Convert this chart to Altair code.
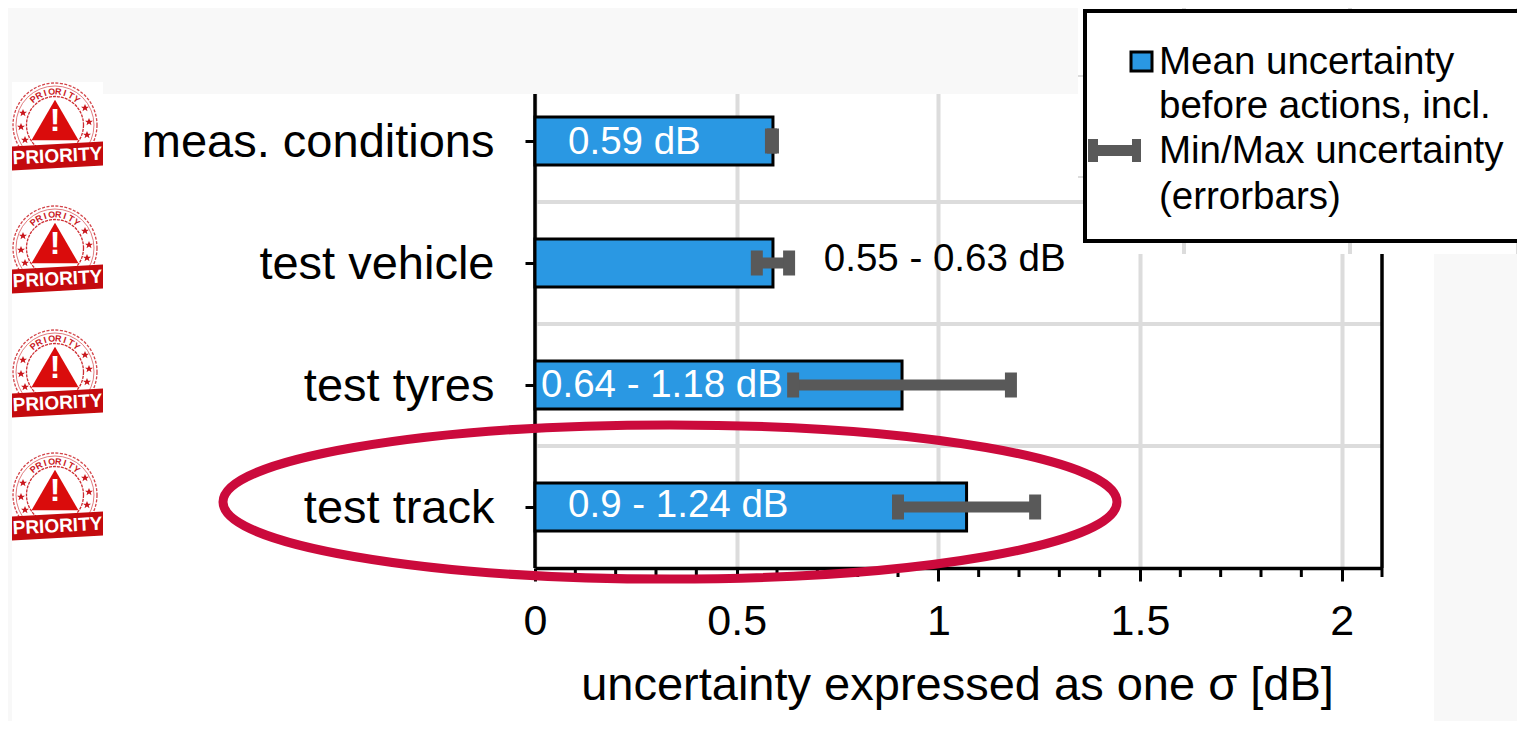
import math
import altair as alt
import pandas as pd

categories = ["meas. conditions", "test vehicle", "test tyres", "test track"]
means = [0.59, 0.59, 0.91, 1.07]
mins = [0.585, 0.55, 0.64, 0.90]
maxs = [0.59, 0.63, 1.18, 1.24]
major_ticks = [0, 0.5, 1, 1.5, 2]
minor_ticks = [0.1, 0.2, 0.3, 0.4, 0.6, 0.7, 0.8, 0.9, 1.1, 1.2, 1.3, 1.4, 1.6, 1.7, 1.8, 1.9, 2.1]
label_text = ["0.59 dB", "0.55 - 0.63 dB", "0.64 - 1.18 dB", "0.9 - 1.24 dB"]
label_x = [0.082, 0.716, 0.015, 0.082]
label_color = ["white", "black", "white", "white"]
label_shift = [1, -4, 0, -2]
legend_lines = ["Mean uncertainty", "before actions, incl.", "Min/Max uncertainty", "(errorbars)"]

FONT = "Liberation Sans"
BLUE = "#2a98e3"
GREY = "#595959"
GRID = "#dcdcdc"
RED = "#cb0a3c"
BG = "#f8f8f8"
STAMP = "#c9161c"

OX, OY = 535, 80   # page position of the plot origin
W, H = 847, 488

df = pd.DataFrame(dict(cat=categories, mean=means, lo=mins, hi=maxs))
minor = pd.DataFrame(dict(v=minor_ticks))
hgrid = pd.DataFrame(dict(cat=categories[1:], a=[0] * 3, b=[2.1] * 3))
edges = pd.DataFrame(dict(v=[0, 2.1]))

X = alt.Scale(domain=[0, 2.1], range=[0, W], nice=False, zero=False)
Y = alt.Scale(domain=categories, paddingInner=0.607, paddingOuter=0.3035)

x_q = alt.X("mean:Q", scale=X, title="uncertainty expressed as one σ [dB]",
            axis=alt.Axis(values=major_ticks, format="~g", grid=True, gridColor=GRID, gridWidth=4,
                          domain=True, domainColor="black", domainWidth=3.5,
                          ticks=True, tickColor="black", tickWidth=3, tickSize=13,
                          labelFont=FONT, labelFontSize=43, labelColor="black", labelPadding=19,
                          labelFlush=False, titleFont=FONT, titleFontSize=47, titleFontWeight="normal",
                          titleColor="black", titlePadding=19, titleX=422, titleAnchor="middle"))
y_c = alt.Y("cat:N", scale=Y, title=None,
            axis=alt.Axis(domain=False, ticks=True, tickColor="black", tickWidth=3, tickSize=10,
                          labelFont=FONT, labelFontSize=47, labelColor="black", labelPadding=31,
                          labelLimit=500, labelOffset=2, grid=False))


def px(v):
    return v - OX


def py(v):
    return v - OY


def pxs(name="x"):
    return alt.X(f"{name}:Q", scale=None, axis=None)


def pys(name="y"):
    return alt.Y(f"{name}:Q", scale=None, axis=None)


def rects(rows):
    d = pd.DataFrame(rows, columns=["x0", "y0", "x1", "y1", "c"])
    d[["x0", "x1"]] -= OX
    d[["y0", "y1"]] -= OY
    return alt.Chart(d).mark_rect(strokeWidth=0).encode(
        x=pxs("x0"), x2="x1:Q", y=pys("y0"), y2="y1:Q", color=alt.Color("c:N", scale=None, legend=None))


# ---- base chart
bars = alt.Chart(df).mark_bar(color=BLUE, stroke="black", strokeWidth=3).encode(x=x_q, y=y_c)
hg = alt.Chart(hgrid).mark_rule(color=GRID, strokeWidth=4, yOffset=-37).encode(
    x=alt.X("a:Q", scale=X), x2="b:Q", y=alt.Y("cat:N", scale=Y, bandPosition=0))
frame = alt.Chart(edges).mark_rule(color="black", strokeWidth=3.5).encode(x=alt.X("v:Q", scale=X))
minor_r = alt.Chart(minor).mark_rule(color="black", strokeWidth=3).encode(
    x=alt.X("v:Q", scale=X), y=alt.value(H), y2=alt.value(H + 9))
err = alt.Chart(df).mark_rule(color=GREY, strokeWidth=11).encode(
    x=alt.X("lo:Q", scale=X), x2="hi:Q", y=alt.Y("cat:N", scale=Y))
cap1 = alt.Chart(df).mark_tick(color=GREY, thickness=12, size=25, opacity=1).encode(
    x=alt.X("lo:Q", scale=X), y=alt.Y("cat:N", scale=Y))
cap2 = alt.Chart(df).mark_tick(color=GREY, thickness=12, size=25, opacity=1).encode(
    x=alt.X("hi:Q", scale=X), y=alt.Y("cat:N", scale=Y))
texts = [
    alt.Chart(pd.DataFrame(dict(cat=[c], tx=[x], t=[s]))).mark_text(
        font=FONT, fontSize=38.5, align="left", baseline="middle", color=col, dy=dy).encode(
        x=alt.X("tx:Q", scale=X), y=alt.Y("cat:N", scale=Y), text="t:N")
    for c, x, s, col, dy in zip(categories, label_x, label_text, label_color, label_shift)
]

# ---- page regions around the chart picture
cover = rects([
    (0, 0, 1078, 94, BG),
    (12, 82, 103, 94, "white"),
    (0, 82, 12, 729, BG),
    (1434, 254, 1525, 729, BG),
    (1078, 0, 1525, 254, "white"),
])
stubs = rects([
    (1182, 1, 1186, 12, GRID), (1348, 1, 1352, 12, GRID), (1516, 1, 1520, 12, GRID),
    (1182, 240, 1186, 254, GRID), (1348, 240, 1352, 254, GRID), (1516, 240, 1520, 254, GRID),
    (1078, 75, 1086, 77, GRID), (1078, 176, 1086, 178, GRID), (1078, 200, 1086, 204, GRID),
])

# ---- legend box
leg_box = alt.Chart(pd.DataFrame(dict(x0=[px(1085)], x1=[px(1535)], y0=[py(11)], y1=[py(241)]))).mark_rect(
    fill="white", stroke="black", strokeWidth=4).encode(x=pxs("x0"), x2="x1:Q", y=pys("y0"), y2="y1:Q")
leg_swatch = alt.Chart(pd.DataFrame(dict(x0=[px(1131)], x1=[px(1152)], y0=[py(52)], y1=[py(71)]))).mark_rect(
    fill=BLUE, stroke="black", strokeWidth=3).encode(x=pxs("x0"), x2="x1:Q", y=pys("y0"), y2="y1:Q")
leg_glyph = rects([
    (1092, 145, 1138, 156, GREY), (1088, 139, 1098, 162, GREY), (1132, 139, 1141, 162, GREY),
])
leg_text = alt.Chart(pd.DataFrame(dict(x=[px(1159)] * 4, y=[py(v) for v in (62, 106, 151, 197)], t=legend_lines))).mark_text(
    font=FONT, fontSize=38.5, align="left", baseline="middle", color="black").encode(
    x=pxs(), y=pys(), text="t:N")

# ---- priority stamps
ring_y = [125, 248, 372, 495]
CX = 55
STAR = "M0,-1L0.29,-0.31L1,-0.31L0.43,0.12L0.62,0.81L0,0.4L-0.62,0.81L-0.43,0.12L-1,-0.31L-0.29,-0.31Z"
BAND = "M-1,-0.21L1,-0.32L1,0.21L-1,0.32Z"
centres = pd.DataFrame(dict(x=[px(CX)] * 4, y=[py(v) for v in ring_y]))
ring_outer = alt.Chart(centres).mark_point(shape="circle", size=84 ** 2, filled=False, color=STAMP, strokeWidth=1.3,
                                           strokeDash=[3, 1.5], opacity=0.8).encode(x=pxs(), y=pys())
ring_mid = alt.Chart(centres).mark_point(shape="circle", size=78 ** 2, filled=False, color=STAMP, strokeWidth=0.8,
                                         opacity=0.7).encode(x=pxs(), y=pys())
ring_in = alt.Chart(centres).mark_point(shape="circle", size=57 ** 2, filled=False, color=STAMP, strokeWidth=1.3,
                                        strokeDash=[3, 1], opacity=0.9).encode(x=pxs(), y=pys())
tri = alt.Chart(centres.assign(y=centres.y - 5)).mark_point(shape="triangle-up", size=47 ** 2, filled=True,
                                                            color="#da0c0c", opacity=1).encode(x=pxs(), y=pys())
excl = alt.Chart(centres.assign(y=centres.y - 4, t="!")).mark_text(
    font=FONT, fontSize=32, fontWeight="bold", color="white", baseline="middle").encode(x=pxs(), y=pys(), text="t:N")
band = alt.Chart(centres.assign(x=centres.x + 2.5, y=centres.y + 31)).mark_point(
    shape=BAND, size=91 ** 2, filled=True, color="#c40a0e", opacity=1).encode(x=pxs(), y=pys())
band_t = alt.Chart(centres.assign(x=centres.x + 2.5, y=centres.y + 31, t="PRIORITY")).mark_text(
    font=FONT, fontSize=19, fontWeight="bold", color="white", baseline="middle", angle=357).encode(
    x=pxs(), y=pys(), text="t:N")
star_offsets = [(-32, -12), (-34, 2), (-30, 15), (30, -17), (34, -3), (32, 10)]
stars = pd.DataFrame([dict(x=px(CX + a), y=py(r + b)) for r in ring_y for a, b in star_offsets])
star_m = alt.Chart(stars).mark_point(shape=STAR, size=8 ** 2, filled=True, color=STAMP, opacity=1).encode(x=pxs(), y=pys())
letters = []
for r in ring_y:
    for i, ch in enumerate("PRIORITY"):
        deg = -40 + i * 80 / 7
        letters.append(dict(x=px(CX + 33.5 * math.sin(math.radians(deg))),
                            y=py(r - 33.5 * math.cos(math.radians(deg))),
                            t=ch, a=(deg + 360) % 360))
arc = alt.Chart(pd.DataFrame(letters)).mark_text(
    font=FONT, fontSize=9, fontWeight="bold", color=STAMP, baseline="middle").encode(
    x=pxs(), y=pys(), text="t:N", angle=alt.Angle("a:Q", scale=None))

# ---- red ellipse
ELLIPSE = "M-1,0A1,0.1725 0 1 0 1,0A1,0.1725 0 1 0 -1,0Z"
ell = alt.Chart(pd.DataFrame(dict(x=[px(670)], y=[py(502)]))).mark_point(
    shape=ELLIPSE, size=(2 * 447) ** 2, filled=False, color=RED, strokeWidth=9, opacity=1).encode(x=pxs(), y=pys())

chart = alt.layer(
    bars.mark_bar(opacity=0), hg, frame, minor_r, bars, err, cap1, cap2, *texts,
    cover, stubs, ring_outer, ring_mid, ring_in, tri, excl, star_m, arc, band, band_t,
    leg_box, leg_swatch, leg_glyph, leg_text, ell,
).properties(
    width=W, height=H, autosize=alt.AutoSizeParams(type="none"),
    padding={"left": OX - 8, "top": OY - 8, "right": 1509 - (OX - 8) - W, "bottom": 713 - (OY - 8) - H},
).configure_view(stroke=None).configure(background="white")

chart.save("out.html", embed_options={"renderer": "svg", "actions": False})
